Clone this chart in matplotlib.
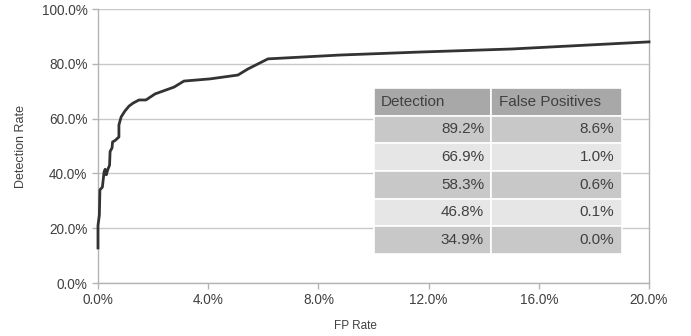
import matplotlib.pyplot as plt
from matplotlib.ticker import FuncFormatter

plt.rcParams['font.family'] = ['Liberation Sans', 'DejaVu Sans']

# ROC-style curve (FP rate %, detection rate %)
fp_rate = [0.0, 0.0, 0.05, 0.07, 0.16, 0.22, 0.26, 0.30, 0.36, 0.42, 0.44, 0.51, 0.53,
           0.62, 0.76, 0.76, 0.84, 0.98, 1.13, 1.28, 1.49, 1.74, 2.07, 2.76, 3.12,
           4.07, 5.08, 5.44, 6.17, 8.78, 11.7, 15.0, 20.0]
detection = [12.8, 21.0, 24.8, 34.0, 35.0, 40.5, 41.5, 39.5, 41.5, 43.0, 48.0, 49.3, 51.5,
             52.0, 53.3, 57.7, 60.6, 62.8, 64.6, 65.7, 66.8, 66.8, 69.0, 71.5, 73.7,
             74.5, 75.9, 78.1, 81.8, 83.2, 84.3, 85.4, 88.0]

table_header = ['Detection', 'False Positives']
table_detection = ['89.2%', '66.9%', '58.3%', '46.8%', '34.9%']
table_fp = ['8.6%', '1.0%', '0.6%', '0.1%', '0.0%']

fig = plt.figure(figsize=(6.91, 3.36), dpi=100)
ax = fig.add_axes([0.1418, 0.1577, 0.7974, 0.8155])

ax.plot(fp_rate, detection, color='#333333', linewidth=2.0, solid_joinstyle='round',
        clip_on=False, zorder=4)

ax.set_xlim(0, 20)
ax.set_ylim(0, 100)
ax.set_xticks([0, 4, 8, 12, 16, 20])
ax.set_yticks([0, 20, 40, 60, 80, 100])
fmt = FuncFormatter(lambda v, p: f'{v:.1f}%')
ax.xaxis.set_major_formatter(fmt)
ax.yaxis.set_major_formatter(fmt)
ax.yaxis.grid(True, color='#c8c8c8', linewidth=1.0)
ax.set_axisbelow(True)

for side in ['left', 'bottom', 'right']:
    ax.spines[side].set_color('#b4b4b4')
    ax.spines[side].set_linewidth(1.0)
ax.spines['top'].set_visible(False)
ax.tick_params(colors='#b4b4b4', labelcolor='#404040', labelsize=9.8, length=4, width=1)

ax.set_xlabel('FP Rate', fontsize=8.5, color='#404040')
ax.set_ylabel('Detection Rate', fontsize=9, color='#404040')
ax.xaxis.set_label_coords(0.468, -0.135)
ax.yaxis.set_label_coords(-0.128, 0.5)

cell_text = [[d, f] for d, f in zip(table_detection, table_fp)]
row_colors = ['#c8c8c8', '#e6e6e6']
cell_colours = [[row_colors[i % 2]] * 2 for i in range(len(cell_text))]
tbl = ax.table(cellText=cell_text, colLabels=table_header, cellColours=cell_colours,
               colColours=['#a8a8a8', '#a8a8a8'], cellLoc='right',
               colWidths=[0.472, 0.528],
               bbox=[0.501, 0.106, 0.450, 0.606], zorder=5)
tbl.auto_set_font_size(False)
for (r, c), cell in tbl.get_celld().items():
    cell.set_edgecolor('white')
    cell.set_linewidth(1.2)
    cell.get_text().set_fontsize(11)
    cell.get_text().set_color('#404040')
    cell.PAD = 0.06
    if r == 0:
        cell.get_text().set_ha('left')
        cell._loc = 'left'

fig.savefig('out.png', dpi=100)
